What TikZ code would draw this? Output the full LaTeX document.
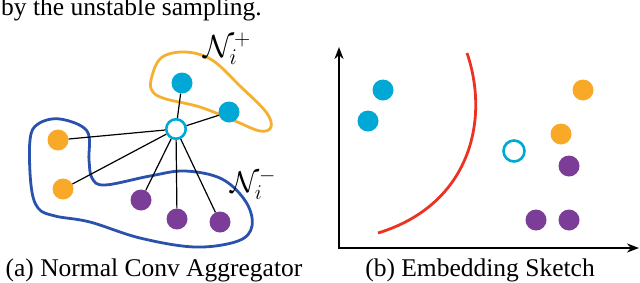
\RequirePackage{fix-cm}
\documentclass[tikz,border=0pt]{standalone}
\usepackage{fontspec}
\setmainfont{Liberation Serif}
\usetikzlibrary{arrows.meta}
\definecolor{PosCyan}{HTML}{00A8D6}
\definecolor{NegPurple}{HTML}{7C3D98}
\definecolor{MidOrange}{HTML}{F8A927}
\definecolor{HullBlue}{HTML}{2A52AC}
\definecolor{HullOrange}{HTML}{F6B030}
\definecolor{SepRed}{HTML}{EB3323}

\begin{document}
\begin{tikzpicture}[x=1pt,y=-1pt,
  dot/.style={circle,inner sep=0pt,minimum size=21pt},
  posdot/.style={dot,fill=PosCyan},negdot/.style={dot,fill=NegPurple},
  middot/.style={dot,fill=MidOrange},
  anchornode/.style={dot,draw=PosCyan,fill=white,line width=2.6pt,minimum size=19.5pt},
  hull/.style={line width=2.8pt},
  every node/.style={font=\fontsize{25.5}{30}\selectfont}]
\useasboundingbox (0,0) rectangle (640,282);
\clip (0,0) rectangle (640,282);
\node[anchor=base west,inner sep=0pt] (line) at (1,15) {by the unstable sampling.};
\begin{scope}
\draw[hull,HullOrange] plot[smooth cycle,tension=.6] coordinates {(151,80) (161,58) (185,52) (212,60)
 (240,86) (266,112) (271,127) (260,131) (235,121) (200,107) (166,99) (153,92)};
\draw[hull,HullBlue] plot[smooth cycle,tension=.6] coordinates {(60,119) (87,131) (89,160) (92,178)
 (105,185) (150,176) (185,171) (222,179) (246,202) (252,226) (238,241) (195,247) (140,238)
 (90,222) (55,216) (38,208) (31,185) (30,140) (38,124)};
\node[anchornode] (c) at (176,129) {};
\node[posdot] (p1) at (182,83) {};
\node[posdot] (p2) at (229,112) {};
\node[middot] (o1) at (58,140) {};
\node[middot] (o2) at (63,189) {};
\node[negdot] (n1) at (141,200) {};
\node[negdot] (n2) at (177,219) {};
\node[negdot] (n3) at (220,222) {};
\foreach \t in {p1,p2,o1,o2,n1,n2,n3} \draw[line width=1.2pt] (c)--(\t);
\node[anchor=base west,inner sep=0pt,font=\fontsize{32}{38}\selectfont] (lplus) at (203,57) {$\mathcal{N}_i^+$};
\node[anchor=base west,inner sep=0pt,font=\fontsize{30}{36}\selectfont] (lminus) at (230,192) {$\mathcal{N}_i^-$};
\node[anchor=base,inner sep=0pt] (capa) at (154,276) {(a) Normal Conv Aggregator};
\end{scope}
\begin{scope}
\coordinate (o) at (339,248);
\coordinate (ytip) at (339,47);
\coordinate (xtip) at (639,248);
\draw[line width=2.4pt,{Stealth[length=12pt,width=9pt]}-{Stealth[length=12pt,width=9pt]}] (ytip)--(o)--(xtip);
\draw[line width=2.8pt,SepRed] (467,53) .. controls (490,120) and (470,205) .. (378,233);
\node[posdot] (q1) at (383,90) {};
\node[posdot] (q2) at (368,121) {};
\node[anchornode,minimum size=21pt] (e) at (514,151) {};
\node[middot] (r1) at (583,90) {};
\node[middot] (r2) at (561,134) {};
\node[negdot] (s1) at (569,166) {};
\node[negdot] (s2) at (536,220) {};
\node[negdot] (s3) at (569,220) {};
\node[anchor=base,inner sep=0pt] (capb) at (480,276) {(b) Embedding Sketch};
\end{scope}
\end{tikzpicture}
\end{document}
